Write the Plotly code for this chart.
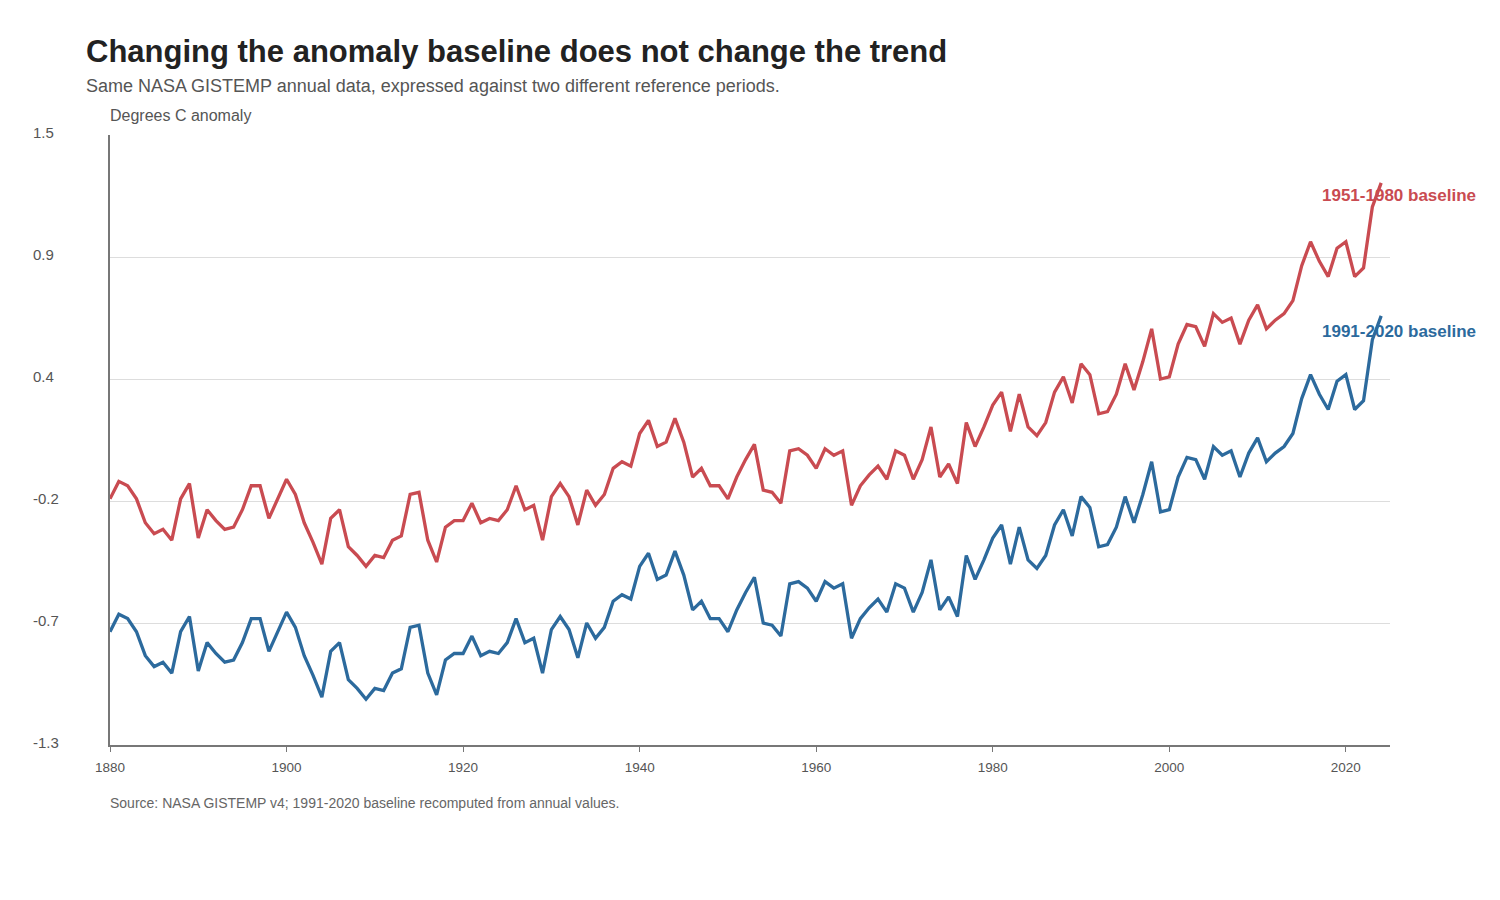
import plotly.graph_objects as go

years = list(range(1880, 2025))

anom_1951_1980 = [
    -0.17, -0.09, -0.11, -0.17, -0.28, -0.33, -0.31, -0.36, -0.17, -0.10,
    -0.35, -0.22, -0.27, -0.31, -0.30, -0.22, -0.11, -0.11, -0.26, -0.17,
    -0.08, -0.15, -0.28, -0.37, -0.47, -0.26, -0.22, -0.39, -0.43, -0.48,
    -0.43, -0.44, -0.36, -0.34, -0.15, -0.14, -0.36, -0.46, -0.30, -0.27,
    -0.27, -0.19, -0.28, -0.26, -0.27, -0.22, -0.11, -0.22, -0.20, -0.36,
    -0.16, -0.10, -0.16, -0.29, -0.13, -0.20, -0.15, -0.03, -0.00, -0.02,
    0.13, 0.19, 0.07, 0.09, 0.20, 0.09, -0.07, -0.03, -0.11, -0.11,
    -0.17, -0.07, 0.01, 0.08, -0.13, -0.14, -0.19, 0.05, 0.06, 0.03,
    -0.03, 0.06, 0.03, 0.05, -0.20, -0.11, -0.06, -0.02, -0.08, 0.05,
    0.03, -0.08, 0.01, 0.16, -0.07, -0.01, -0.10, 0.18, 0.07, 0.16,
    0.26, 0.32, 0.14, 0.31, 0.16, 0.12, 0.18, 0.32, 0.39, 0.27,
    0.45, 0.40, 0.22, 0.23, 0.31, 0.45, 0.33, 0.46, 0.61, 0.38,
    0.39, 0.54, 0.63, 0.62, 0.53, 0.68, 0.64, 0.66, 0.54, 0.65,
    0.72, 0.61, 0.65, 0.68, 0.74, 0.90, 1.01, 0.92, 0.85, 0.98,
    1.01, 0.85, 0.89, 1.17, 1.28,
]

anom_1991_2020 = [
    -0.78, -0.70, -0.72, -0.78, -0.89, -0.94, -0.92, -0.97, -0.78, -0.71,
    -0.96, -0.83, -0.88, -0.92, -0.91, -0.83, -0.72, -0.72, -0.87, -0.78,
    -0.69, -0.76, -0.89, -0.98, -1.08, -0.87, -0.83, -1.00, -1.04, -1.09,
    -1.04, -1.05, -0.97, -0.95, -0.76, -0.75, -0.97, -1.07, -0.91, -0.88,
    -0.88, -0.80, -0.89, -0.87, -0.88, -0.83, -0.72, -0.83, -0.81, -0.97,
    -0.77, -0.71, -0.77, -0.90, -0.74, -0.81, -0.76, -0.64, -0.61, -0.63,
    -0.48, -0.42, -0.54, -0.52, -0.41, -0.52, -0.68, -0.64, -0.72, -0.72,
    -0.78, -0.68, -0.60, -0.53, -0.74, -0.75, -0.80, -0.56, -0.55, -0.58,
    -0.64, -0.55, -0.58, -0.56, -0.81, -0.72, -0.67, -0.63, -0.69, -0.56,
    -0.58, -0.69, -0.60, -0.45, -0.68, -0.62, -0.71, -0.43, -0.54, -0.45,
    -0.35, -0.29, -0.47, -0.30, -0.45, -0.49, -0.43, -0.29, -0.22, -0.34,
    -0.16, -0.21, -0.39, -0.38, -0.30, -0.16, -0.28, -0.15, 0.00, -0.23,
    -0.22, -0.07, 0.02, 0.01, -0.08, 0.07, 0.03, 0.05, -0.07, 0.04,
    0.11, 0.00, 0.04, 0.07, 0.13, 0.29, 0.40, 0.31, 0.24, 0.37,
    0.40, 0.24, 0.28, 0.56, 0.67,
]

y_tickvals = [-1.3, -0.74, -0.18, 0.38, 0.94, 1.5]
y_ticktext = ["-1.3", "-0.7", "-0.2", "0.4", "0.9", "1.5"]
x_tickvals = [1880, 1900, 1920, 1940, 1960, 1980, 2000, 2020]

RED = "#c94b51"
BLUE = "#2c6a9d"
FONT = "Liberation Sans, Arial, sans-serif"

fig = go.Figure()
fig.add_trace(go.Scatter(x=years, y=anom_1951_1980, mode="lines",
                         line=dict(color=RED, width=3.3), name="1951-1980 baseline",
                         showlegend=False))
fig.add_trace(go.Scatter(x=years, y=anom_1991_2020, mode="lines",
                         line=dict(color=BLUE, width=3.3), name="1991-2020 baseline",
                         showlegend=False))

L, R, T, B = 110, 110, 135, 155
W, H = 1500, 900
ph = H - T - B
pw = W - L - R

def py(pix):
    return (H - B - pix) / ph

def px(pix):
    return (pix - L) / pw

ann = []
ann.append(dict(text="<b>Changing the anomaly baseline does not change the trend</b>",
                x=px(84), y=py(52), xref="paper", yref="paper", xanchor="left", yanchor="middle",
                showarrow=False, font=dict(size=31, color="#222222", family=FONT)))
ann.append(dict(text="Same NASA GISTEMP annual data, expressed against two different reference periods.",
                x=px(84), y=py(86), xref="paper", yref="paper", xanchor="left", yanchor="middle",
                showarrow=False, font=dict(size=18, color="#555555", family=FONT)))
ann.append(dict(text="Degrees C anomaly",
                x=px(108), y=py(116), xref="paper", yref="paper", xanchor="left", yanchor="middle",
                showarrow=False, font=dict(size=16, color="#555555", family=FONT)))
ann.append(dict(text="Source: NASA GISTEMP v4; 1991-2020 baseline recomputed from annual values.",
                x=px(108), y=py(803), xref="paper", yref="paper", xanchor="left", yanchor="middle",
                showarrow=False, font=dict(size=14, color="#666666", family=FONT)))
for v, t in zip(y_tickvals, y_ticktext):
    ann.append(dict(text=t, x=px(31), y=v, xref="paper", yref="y", xanchor="left",
                    yanchor="middle", showarrow=False, yshift=3,
                    font=dict(size=15, color="#555555", family=FONT)))
ann.append(dict(text="<b>1951-1980 baseline</b>", x=px(1320), y=py(195), xref="paper", yref="paper",
                xanchor="left", yanchor="middle", showarrow=False,
                font=dict(size=17, color=RED, family=FONT)))
ann.append(dict(text="<b>1991-2020 baseline</b>", x=px(1320), y=py(331), xref="paper", yref="paper",
                xanchor="left", yanchor="middle", showarrow=False,
                font=dict(size=17, color=BLUE, family=FONT)))

fig.update_layout(
    width=W, height=H,
    margin=dict(l=L, r=R, t=T, b=B),
    paper_bgcolor="white", plot_bgcolor="white",
    font=dict(family=FONT, color="#555555"),
    annotations=ann,
    xaxis=dict(range=[1880, 2025], tickvals=x_tickvals, showgrid=False, zeroline=False,
               showline=True, linecolor="#777777", linewidth=1.5,
               ticks="outside", ticklen=5, tickcolor="#777777", tickwidth=1,
               ticklabelstandoff=4,
               tickfont=dict(size=13.5, color="#555555", family=FONT)),
    yaxis=dict(range=[-1.3, 1.5], tickvals=y_tickvals, showticklabels=False,
               showgrid=True, gridcolor="#dddddd", gridwidth=1, zeroline=False,
               showline=True, linecolor="#777777", linewidth=2, ticks=""),
)

fig.write_html("out.html")
